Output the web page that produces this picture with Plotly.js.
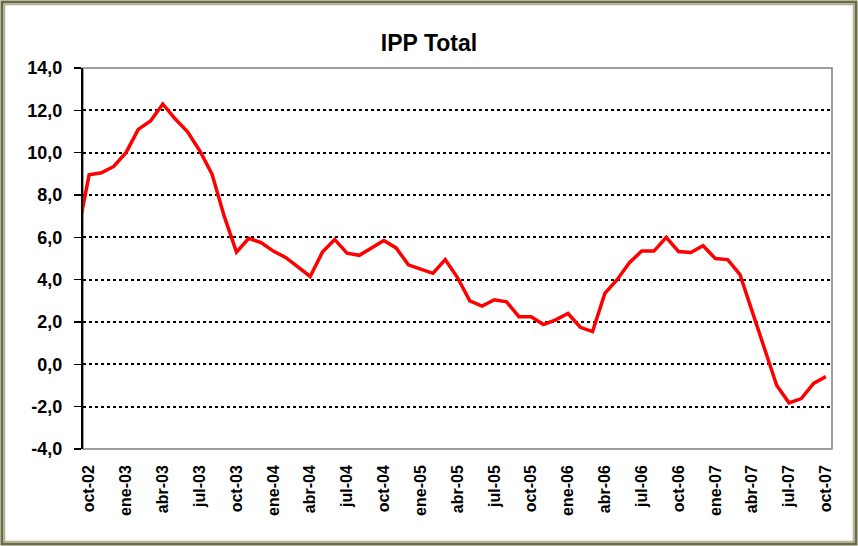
<!DOCTYPE html>
<html><head><meta charset="utf-8">
<script src="https://cdn.plot.ly/plotly-3.0.1.min.js"></script>
<style>html,body{margin:0;padding:0;background:#fff}#chart{width:858px;height:546px}</style>
</head><body><div id="chart"></div>
<script>
const months = ["sep-02","oct-02","nov-02","dic-02",
  "ene-03","feb-03","mar-03","abr-03","may-03","jun-03","jul-03","ago-03","sep-03","oct-03","nov-03","dic-03",
  "ene-04","feb-04","mar-04","abr-04","may-04","jun-04","jul-04","ago-04","sep-04","oct-04","nov-04","dic-04",
  "ene-05","feb-05","mar-05","abr-05","may-05","jun-05","jul-05","ago-05","sep-05","oct-05","nov-05","dic-05",
  "ene-06","feb-06","mar-06","abr-06","may-06","jun-06","jul-06","ago-06","sep-06","oct-06","nov-06","dic-06",
  "ene-07","feb-07","mar-07","abr-07","may-07","jun-07","jul-07","ago-07","sep-07","oct-07"];
const ipp = [6.0, 8.95, 9.05, 9.35,
  10.0, 11.1, 11.5, 12.3, 11.6, 11.0, 10.1, 9.0, 7.0, 5.3, 5.95, 5.75,
  5.35, 5.05, 4.6, 4.15, 5.3, 5.9, 5.25, 5.15, 5.5, 5.85, 5.5, 4.7,
  4.5, 4.3, 4.95, 4.1, 3.0, 2.75, 3.05, 2.95, 2.25, 2.25, 1.88, 2.1,
  2.4, 1.75, 1.55, 3.35, 4.0, 4.8, 5.35, 5.35, 6.0, 5.33, 5.28, 5.6,
  5.0, 4.95, 4.25, 2.45, 0.75, -1.0, -1.82, -1.62, -0.9, -0.58];
const tickLabels = ["oct-02","ene-03","abr-03","jul-03","oct-03","ene-04","abr-04","jul-04","oct-04",
  "ene-05","abr-05","jul-05","oct-05","ene-06","abr-06","jul-06","oct-06","ene-07","abr-07","jul-07","oct-07"];
const yTickVals = [-4, -2, 0, 2, 4, 6, 8, 10, 12, 14];
const yTickText = ["-4,0","-2,0","0,0","2,0","4,0","6,0","8,0","10,0","12,0","14,0"];

const xIdx = months.map((m, i) => i);
const labelPos = tickLabels.map(l => months.indexOf(l));
const boundaryPos = labelPos.map(p => p - 0.5);
const xRange = [labelPos[0] - 0.5, labelPos[labelPos.length - 1] + 0.5];
const yRange = [yTickVals[0], yTickVals[yTickVals.length - 1]];

const W = 858, H = 546, L = 83, R = 26, T = 68, B = 97;
const pw = W - L - R, ph = H - T - B;
const px = x => (x - L) / pw;
const py = y => (H - B - y) / ph;

const FONT = 'Arial, "Liberation Sans", sans-serif';

const trace = {
  x: xIdx, y: ipp, type: 'scatter', mode: 'lines',
  line: {color: '#ff0000', width: 3.5},
  hoverinfo: 'skip', xaxis: 'x', yaxis: 'y'
};

const layout = {
  width: W, height: H,
  margin: {l: L, r: R, t: T, b: B, pad: 0},
  paper_bgcolor: '#ffffff', plot_bgcolor: '#ffffff',
  font: {family: FONT, color: '#000'},
  showlegend: false,
  title: {text: 'IPP Total', font: {family: FONT, size: 23, weight: 700, color: '#000'},
          xref: 'container', x: 0.5, xanchor: 'center', yref: 'container', y: 1 - 43 / H, yanchor: 'middle'},
  xaxis: {
    range: xRange, tickmode: 'array', tickvals: labelPos, ticktext: tickLabels,
    tickangle: -90, ticks: '', showgrid: false, zeroline: false, showline: false,
    tickfont: {family: FONT, size: 16, weight: 700, color: '#000'}, ticklabelstandoff: 12, fixedrange: true
  },
  xaxis2: {
    overlaying: 'x', anchor: 'free', position: (0 - yRange[0]) / (yRange[1] - yRange[0]),
    range: xRange, tickmode: 'array', tickvals: boundaryPos, ticks: 'outside', ticklen: 7,
    tickwidth: 1.5, tickcolor: '#000', showticklabels: false, showline: true, linecolor: '#000',
    linewidth: 1.5, showgrid: false, zeroline: false, fixedrange: true
  },
  yaxis: {
    range: yRange, tickmode: 'array', tickvals: yTickVals, ticktext: yTickText,
    ticks: 'outside', ticklen: 7, tickwidth: 1.5, tickcolor: '#000',
    showline: true, linecolor: '#000', linewidth: 2,
    showgrid: true, gridcolor: '#000', gridwidth: 2, griddash: '3px,3px', zeroline: false,
    tickfont: {family: FONT, size: 18, weight: 700, color: '#000'}, ticklabelstandoff: 8, fixedrange: true
  },
  shapes: [
    {type: 'rect', xref: 'paper', yref: 'paper', x0: 0, x1: 1, y0: 0, y1: 1,
     line: {color: '#808080', width: 1.5}, fillcolor: 'rgba(0,0,0,0)', layer: 'below'},
    {type: 'rect', xref: 'paper', yref: 'paper', x0: px(2), x1: px(856), y0: py(2), y1: py(544),
     line: {color: '#6b6b45', width: 3}, fillcolor: 'rgba(0,0,0,0)', layer: 'above'},
    {type: 'rect', xref: 'paper', yref: 'paper', x0: px(4.5), x1: px(853.5), y0: py(4.5), y1: py(541.5),
     line: {color: '#b0b098', width: 1.5}, fillcolor: 'rgba(0,0,0,0)', layer: 'above'}
  ]
};

Plotly.newPlot('chart', [trace], layout, {displayModeBar: false, staticPlot: true});
</script>
</body></html>
